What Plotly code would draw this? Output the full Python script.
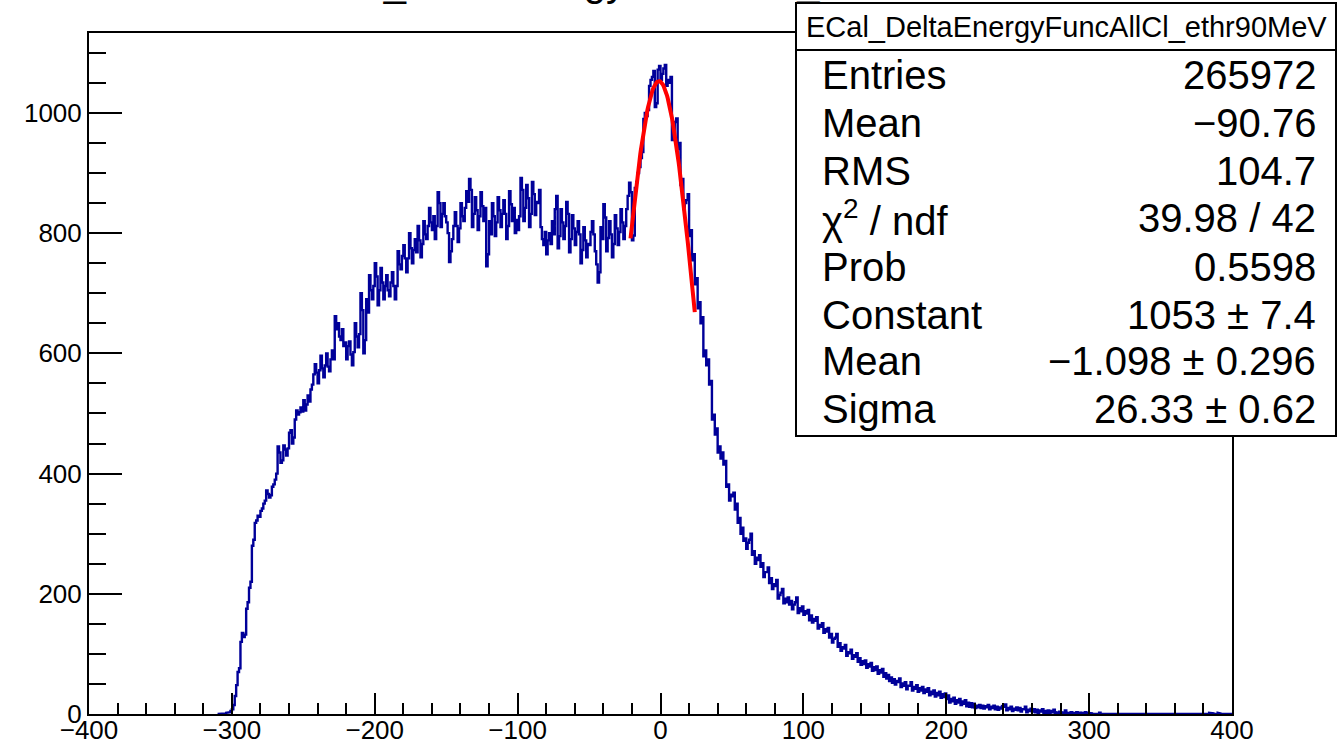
import numpy as np
import plotly.graph_objects as go

# ---------------- data ----------------
hist_name = "ECal_DeltaEnergyFuncAllCl_ethr90MeV"
bin_start = -310      # low edge of the first listed bin
bin_width = 1
counts = [
    0, 0, 0, 0, 1, 1, 2, 2, 3, 5,                              # -310
    8, 15, 30, 48, 70, 76, 120, 135, 128, 132,                 # -300
    175, 186, 210, 220, 280, 290, 318, 322, 330, 328,          # -290
    338, 342, 350, 355, 372, 366, 360, 364, 378, 382,          # -280
    390, 400, 445, 435, 418, 422, 447, 440, 430, 442,          # -270
    468, 472, 450, 460, 490, 505, 498, 502, 510, 503,          # -260
    522, 505, 515, 530, 520, 540, 548, 565, 582, 568,          # -250
    550, 572, 596, 575, 560, 580, 600, 578, 570, 590,          # -240
    605, 590, 662, 640, 650, 628, 622, 640, 612, 618,          # -230
    590, 612, 620, 598, 580, 602, 650, 628, 610, 632,          # -220
    700, 672, 600, 622, 690, 668, 730, 705, 690, 712,          # -210
    750, 728, 680, 705, 742, 718, 690, 712, 730, 705,          # -200
    695, 718, 735, 712, 690, 712, 770, 748, 740, 762,          # -190
    780, 758, 735, 758, 800, 775, 750, 772, 790, 768,          # -180
    812, 788, 760, 782, 820, 798, 790, 812, 842, 818,          # -170
    805, 828, 790, 812, 868, 850, 810, 832, 850, 828,          # -160
    818, 800, 752, 770, 790, 812, 835, 812, 785, 808,          # -150
    850, 828, 820, 842, 870, 852, 890, 872, 810, 832,          # -140
    860, 838, 805, 828, 868, 845, 820, 842, 745, 765,          # -130
    820, 798, 850, 828, 795, 818, 860, 838, 810, 832,          # -120
    855, 832, 790, 812, 870, 848, 820, 842, 800, 822,          # -110
    805, 828, 892, 872, 820, 842, 880, 858, 810, 832,          # -100
    885, 865, 830, 852, 850, 872, 810, 790, 780, 802,          # -90
    765, 788, 800, 782, 820, 798, 840, 862, 775, 795,          # -80
    840, 818, 790, 812, 852, 832, 768, 790, 830, 808,          # -70
    780, 802, 820, 798, 750, 772, 810, 788, 760, 782,          # -60
    780, 802, 820, 798, 770, 748, 718, 735, 810, 790,          # -50
    848, 826, 770, 792, 820, 798, 760, 782, 830, 808,          # -40
    780, 802, 840, 818, 790, 812, 840, 862, 884, 868,          # -30
    788, 796, 875, 885, 900, 910, 925, 935, 990, 1000,         # -20
    995, 1005, 1045, 1055, 1060, 1070, 1010, 1016, 1072, 1078, # -10
    1055, 1065, 1074, 1080, 1045, 1055, 1050, 1060, 955, 962,  # 0
    985, 991, 940, 950, 880, 890, 840, 850, 855, 865,          # 10
    795, 805, 755, 765, 715, 725, 675, 685, 650, 660,          # 20
    595, 605, 580, 590, 548, 554, 490, 498, 465, 475,          # 30
    435, 445, 425, 435, 415, 421, 378, 382, 355, 365,          # 40
    362, 368, 340, 350, 318, 326, 300, 310, 288, 292,          # 50
    275, 285, 290, 300, 265, 271, 250, 260, 256, 264,          # 60
    245, 251, 228, 236, 236, 244, 218, 226, 208, 216,          # 70
    213, 223, 192, 198, 202, 208, 184, 192, 186, 194,          # 80
    182, 188, 174, 182, 186, 194, 168, 176, 171, 179,          # 90
    165, 171, 167, 173, 156, 164, 152, 158, 155, 161,          # 100
    142, 148, 145, 151, 135, 141, 137, 143, 127, 133,          # 110
    119, 125, 127, 133, 112, 118, 105, 111, 109, 115,          # 120
    97, 103, 101, 107, 92, 98, 95, 101, 87, 93,                # 130
    82, 88, 83, 89, 77, 83, 79, 85, 72, 78,                    # 140
    73, 79, 67, 73, 69, 75, 62, 68, 59, 65,                    # 150
    55, 61, 52, 58, 49, 55, 53, 59, 45, 51,                    # 160
    47, 53, 41, 47, 47, 53, 39, 45, 42, 48,                    # 170
    37, 43, 39, 45, 35, 41, 37, 43, 31, 37,                    # 180
    33, 39, 29, 35, 31, 37, 27, 33, 28, 34,                    # 190
    25, 31, 19, 25, 21, 27, 17, 23, 19, 25,                    # 200
    15, 21, 17, 23, 13, 19, 12, 18, 11, 17,                    # 210
    10, 14, 11, 15, 10, 14, 9, 13, 11, 15,                     # 220
    8, 12, 10, 14, 8, 12, 7, 11, 9, 13,                        # 230
    12, 16, 6, 10, 8, 12, 5, 9, 7, 11,                         # 240
    6, 10, 4, 8, 8, 12, 3, 7, 5, 9,                            # 250
    4, 8, 3, 7, 2, 6, 4, 8, 1, 5,                              # 260
    2, 6, 1, 5, 3, 7, 1, 3, 2, 4,                              # 270
    1, 3, 2, 6, 0, 2, 1, 3, 0, 2,                              # 280
    1, 3, 0, 2, 0, 2, 1, 3, 0, 2,                              # 290
    1, 1, 0, 0, 1, 1, 0, 2, 0, 0,                              # 300
    1, 0, 0, 0, 1, 1, 0, 0, 0, 0,                              # 310
    0, 1, 0, 0, 0, 0, 1, 0, 0, 0,                              # 320
    0, 0, 1, 1, 0, 0, 0, 0, 1, 0,                              # 330
    0, 0, 0, 0, 0, 0, 1, 0, 0, 0,                              # 340
    0, 0, 0, 0, 1, 0, 0, 0, 0, 0,                              # 350
    0, 0, 0, 0, 1, 0, 0, 0, 0, 0,                              # 360
    0, 0, 0, 0, 1, 0, 0, 0, 0, 0,                              # 370
    0, 0, 1, 0, 2, 1, 1, 0, 0, 0,                              # 380
    2, 1, 0, 1, 1, 0, 0, 0, 0, 0,                              # 390
]

# Gaussian fit (parameters from the stats box) and fit range
fit_constant = 1053.0
fit_mean = -1.098
fit_sigma = 26.33
fit_range = [-21.0, 24.0]

x_range = [-400, 400]
y_range = [0, 1133]

stat_labels = ["Entries", "Mean", "RMS", "χ<sup>2</sup> / ndf", "Prob",
               "Constant", "Mean", "Sigma"]
stat_values = ["265972", "−90.76", "104.7", "39.98 / 42", "0.5598",
               "1053 ± 7.4", "−1.098 ± 0.296", "26.33 ± 0.62"]

# ---------------- geometry ----------------
W, H = 1338, 747
L, R, T, B = 89, 1232, 33, 714   # plot frame in pixels
FONT = "Liberation Sans, Arial, Helvetica, sans-serif"


def px(xp):
    return (xp - L) / (R - L)


def py(yp):
    return (B - yp) / (B - T)


counts = np.array(counts, dtype=float)
edges = bin_start + bin_width * np.arange(len(counts) + 1)
xs = np.concatenate([[edges[0]], np.repeat(edges, 2)[1:-1], [edges[-1]]])
ys = np.concatenate([[0], np.repeat(counts, 2), [0]])

fx = np.linspace(fit_range[0], fit_range[1], 100)
fy = fit_constant * np.exp(-0.5 * ((fx - fit_mean) / fit_sigma) ** 2)

fig = go.Figure()
fig.add_trace(go.Scatter(x=xs, y=ys, mode="lines",
                         line=dict(color="#000099", width=2.4),
                         hoverinfo="skip", showlegend=False))
fig.add_trace(go.Scatter(x=fx, y=fy, mode="lines",
                         line=dict(color="#ff0000", width=4),
                         hoverinfo="skip", showlegend=False))

axis_common = dict(showgrid=False, zeroline=False, showline=True,
                   linecolor="black", linewidth=2, mirror=True,
                   ticks="inside", tickcolor="black", tickwidth=2,
                   automargin=False,
                   tickfont=dict(family=FONT, size=26, color="black"))

fig.update_xaxes(range=x_range, dtick=100, tick0=0, ticklen=21,
                 ticklabelstandoff=-8,
                 minor=dict(dtick=20, ticklen=11, ticks="inside",
                            tickcolor="black", tickwidth=2),
                 **axis_common)
fig.update_yaxes(range=y_range, dtick=200, tick0=0, ticklen=33,
                 minor=dict(dtick=50, ticklen=17, ticks="inside",
                            tickcolor="black", tickwidth=2),
                 **axis_common)

shapes = []
# stats box
box_l, box_r, box_t, box_b, sep = 796, 1336, 3, 436, 50
shapes.append(dict(type="rect", xref="paper", yref="paper",
                   x0=px(box_l), x1=px(box_r), y0=py(box_b), y1=py(box_t),
                   line=dict(color="black", width=2), fillcolor="white",
                   layer="above"))
shapes.append(dict(type="line", xref="paper", yref="paper",
                   x0=px(box_l), x1=px(box_r), y0=py(sep), y1=py(sep),
                   line=dict(color="black", width=2), layer="above"))

annotations = []
annotations.append(dict(text=hist_name, xref="paper", yref="paper",
                        x=px((box_l + box_r) / 2), y=py(27),
                        xanchor="center", yanchor="middle", showarrow=False,
                        font=dict(family=FONT, size=29, color="black")))
row_y = [75, 123, 171, 218, 267, 315, 361, 409]
for lab, val, yy in zip(stat_labels, stat_values, row_y):
    annotations.append(dict(text=lab, xref="paper", yref="paper",
                            x=px(820), y=py(yy), xanchor="left",
                            yanchor="middle", showarrow=False,
                            font=dict(family=FONT, size=40, color="black")))
    annotations.append(dict(text=val, xref="paper", yref="paper",
                            x=px(1318), y=py(yy), xanchor="right",
                            yanchor="middle", showarrow=False,
                            font=dict(family=FONT, size=40, color="black")))
# title, mostly above the visible page
annotations.append(dict(text=hist_name, xref="paper", yref="paper",
                        x=px(656), y=py(6), xanchor="center",
                        yanchor="bottom", showarrow=False,
                        font=dict(family=FONT, size=40, color="black")))

fig.update_layout(width=W, height=H,
                  margin=dict(l=L, r=W - R, t=T, b=H - B, pad=0,
                              autoexpand=False),
                  paper_bgcolor="white", plot_bgcolor="white",
                  shapes=shapes, annotations=annotations,
                  showlegend=False)

fig.write_html("out.html")
